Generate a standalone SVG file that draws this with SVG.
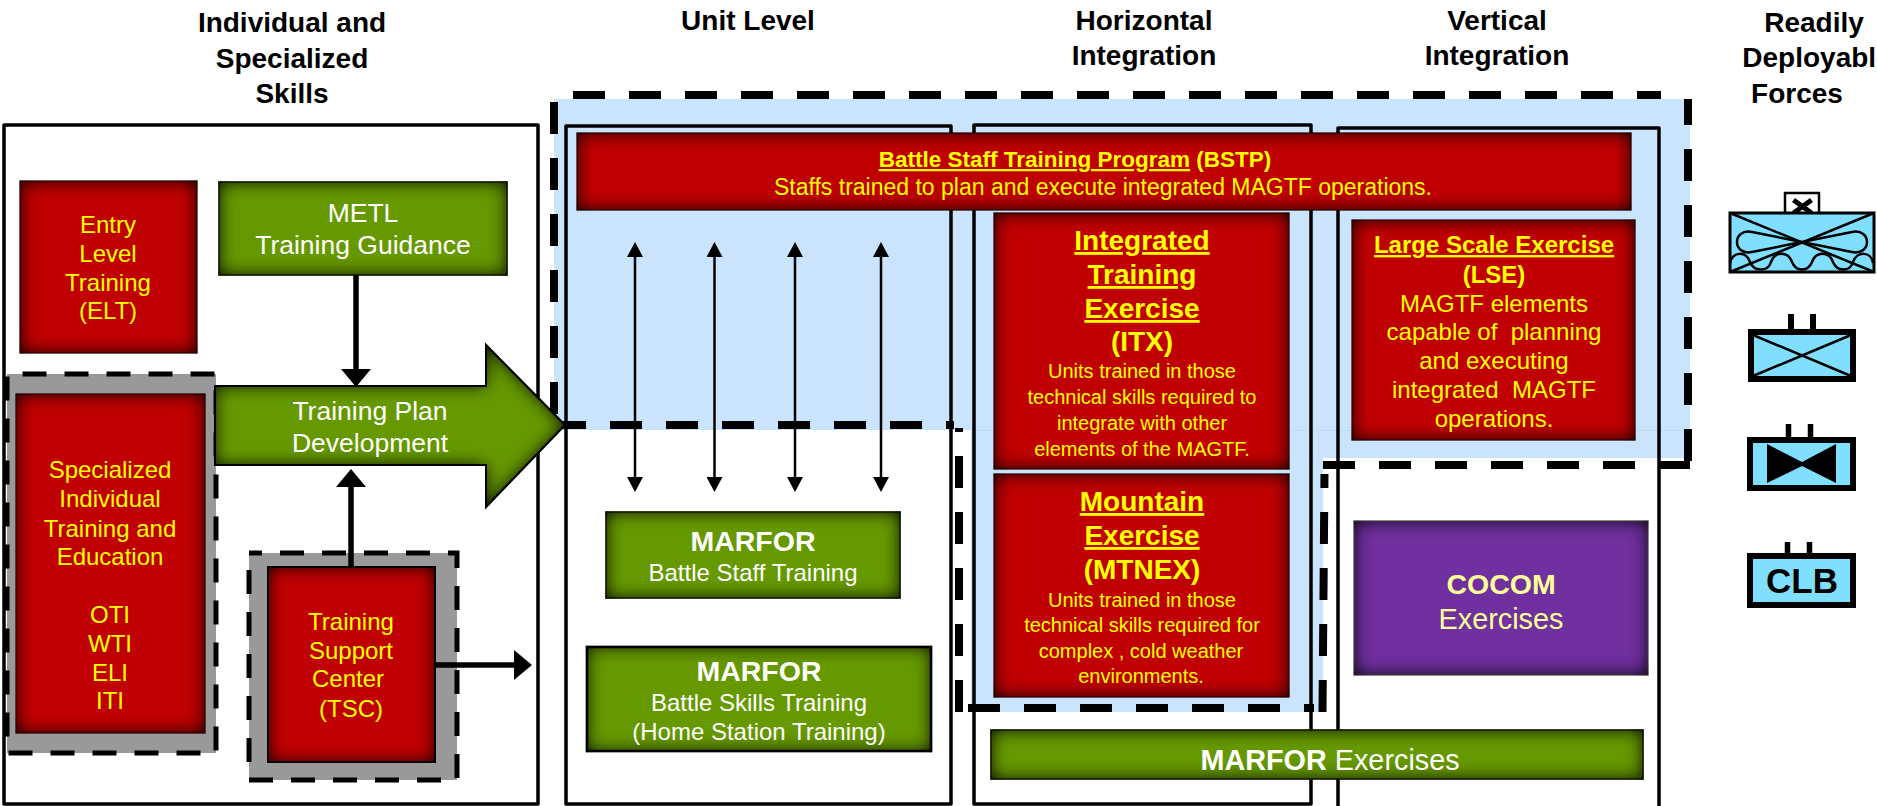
<svg xmlns="http://www.w3.org/2000/svg" width="1877" height="806" viewBox="0 0 1877 806">
<style>
text{font-family:"Liberation Sans",Arial,sans-serif;text-anchor:middle}
.h{font-size:28px;font-weight:700;fill:#000}
.y24{font-size:24px;fill:#ff0}
.y20{font-size:20px;fill:#ff0}
.w26{font-size:26.5px;fill:#fff}
.w24{font-size:24px;fill:#fff}
.b28{font-size:28.5px;font-weight:700}
.t{font-size:28px;font-weight:700;fill:#ff0}
.u{text-decoration:underline}
.frame{fill:none;stroke:#000;stroke-width:3.5;stroke-linejoin:round}
.red{fill:#c00000;stroke:#400;stroke-width:1;filter:url(#inset)}
.green{fill:#669900;stroke:#1c2c00;stroke-width:1.5;filter:url(#inset)}
.gray{fill:#999;stroke:#000;stroke-width:5;stroke-dasharray:24 18}
.bd{fill:none;stroke:#000;stroke-width:8;stroke-dasharray:32 24}
.sym{fill:#80dfff;stroke:#000}
.cn{fill:none;stroke:#000}
</style>
<defs>
<filter id="inset" filterUnits="userSpaceOnUse" x="0" y="0" width="1877" height="806" color-interpolation-filters="sRGB">
<feFlood flood-color="#000" flood-opacity="1" result="f"/>
<feComposite in="f" in2="SourceAlpha" operator="out" result="inv"/>
<feGaussianBlur in="inv" stdDeviation="9" result="b"/>
<feComposite in="b" in2="SourceAlpha" operator="in" result="sh"/>
<feMerge><feMergeNode in="SourceGraphic"/><feMergeNode in="sh"/></feMerge>
</filter>
<marker id="thin" markerUnits="userSpaceOnUse" markerWidth="16" markerHeight="16" refX="0" refY="8" orient="auto-start-reverse"><path d="M0 0L15 8L0 16Z"/></marker>
<marker id="thick" markerUnits="userSpaceOnUse" markerWidth="18" markerHeight="30" refX="0" refY="15" orient="auto"><path d="M0 0L18 15L0 30Z"/></marker>
</defs>

<g id="headers">
<text class="h" x="292" y="32">Individual and</text><text class="h" x="292" y="68">Specialized</text><text class="h" x="292" y="103">Skills</text>
<text class="h" x="748" y="30">Unit Level</text>
<text class="h" x="1144" y="30">Horizontal</text><text class="h" x="1144" y="65">Integration</text>
<text class="h" x="1497" y="30">Vertical</text><text class="h" x="1497" y="65">Integration</text>
<text class="h" x="1814" y="32">Readily</text><text class="h" x="1817" y="67">Deployable</text><text class="h" x="1797" y="103">Forces</text>
</g>

<g id="integration-zone">
<polygon points="554,99 1690,99 1690,458 1323,458 1323,712 971,712 971,430 554,430" fill="#cae4fe"/>
<path d="M971 430.500H1690M1319 431V458" fill="none" stroke="#bcdcf8" stroke-width="1"/>
<path class="bd" d="M573 95H1661"/>
<path class="bd" d="M554 414V102"/>
<path class="bd" d="M554 425H954"/>
<path class="bd" d="M959 712V428"/>
<path class="bd" d="M968 708H1314"/>
<path class="bd" d="M1322.500 712L1324.500 474"/>
<path class="bd" d="M1323 465H1690"/>
<path class="bd" d="M1688 461V99"/>
</g>

<g id="frames">
<rect class="frame" x="4" y="125" width="534" height="679"/>
<rect class="frame" x="566" y="126" width="385" height="678"/>
<rect class="frame" x="974" y="125" width="337" height="679"/>
<rect class="frame" x="1338" y="128" width="321" height="690"/>
</g>

<g id="elt"><rect class="red" x="20" y="181" width="177" height="172"/>
<text class="y24" x="108" y="233">Entry</text><text class="y24" x="108" y="262">Level</text><text class="y24" x="108" y="291">Training</text><text class="y24" x="108" y="319">(ELT)</text></g>

<g id="metl"><rect class="green" x="219" y="182" width="288" height="93"/>
<text class="w26" x="363" y="222">METL</text><text class="w26" x="363" y="254">Training Guidance</text></g>

<g id="site"><rect class="gray" x="7" y="374" width="209" height="379" stroke-dashoffset="-15.500"/>
<rect class="red" x="16" y="394" width="189" height="339"/>
<text class="y24" x="110" y="478">Specialized</text><text class="y24" x="110" y="507">Individual</text><text class="y24" x="110" y="537">Training and</text><text class="y24" x="110" y="565">Education</text>
<text class="y24" x="110" y="623">OTI</text><text class="y24" x="110" y="652">WTI</text><text class="y24" x="110" y="681">ELI</text><text class="y24" x="110" y="709">ITI</text></g>

<g id="tsc"><rect class="gray" x="249" y="553" width="208" height="227" stroke-dashoffset="11"/>
<rect class="red" x="268" y="567" width="167" height="195" style="stroke:#000;stroke-width:2"/>
<text class="y24" x="351" y="630">Training</text><text class="y24" x="351" y="659">Support</text><text class="y24" x="348" y="687">Center</text><text class="y24" x="351" y="717">(TSC)</text></g>

<g id="plan"><polygon class="green" points="215,386 486,386 486,345 565,425 486,507 486,465 215,465" style="stroke:#000;stroke-width:2"/>
<text class="w26" x="370" y="420">Training Plan</text><text class="w26" x="370" y="452">Development</text></g>

<g id="bstp"><rect class="red" x="577" y="133" width="1054" height="77"/>
<text class="y24" x="1075" y="167" font-weight="700" style="font-size:22.500px"><tspan class="u">Battle Staff Training Program</tspan>  (BSTP)</text>
<text class="y24" x="1103" y="195" style="font-size:23px">Staffs trained to plan and execute integrated MAGTF operations.</text></g>

<g id="itx"><rect class="red" x="994" y="213" width="295" height="256"/>
<text class="t u" x="1142" y="250">Integrated</text><text class="t u" x="1142" y="284">Training</text><text class="t u" x="1142" y="318">Exercise</text><text class="t" x="1142" y="351">(ITX)</text>
<text class="y20" x="1142" y="378">Units trained in those</text><text class="y20" x="1142" y="404">technical skills required to</text><text class="y20" x="1142" y="430">integrate with other</text><text class="y20" x="1142" y="456">elements of the MAGTF.</text></g>

<g id="mtnex"><rect class="red" x="994" y="474" width="295" height="223"/>
<text class="t u" x="1142" y="511">Mountain</text><text class="t u" x="1142" y="545">Exercise</text><text class="t" x="1142" y="579">(MTNEX)</text>
<text class="y20" x="1142" y="607">Units trained in those</text><text class="y20" x="1142" y="632">technical skills required for</text><text class="y20" x="1141" y="658">complex , cold weather</text><text class="y20" x="1141" y="683">environments.</text></g>

<g id="lse"><rect class="red" x="1352" y="220" width="283" height="220"/>
<text class="y24 u" x="1494" y="253" font-weight="700">Large Scale Exercise</text><text class="y24" x="1494" y="283" font-weight="700">(LSE)</text>
<text class="y24" x="1494" y="312">MAGTF elements</text><text class="y24" x="1494" y="340" xml:space="preserve">capable of  planning</text><text class="y24" x="1494" y="369">and executing</text><text class="y24" x="1494" y="398" xml:space="preserve">integrated  MAGTF</text><text class="y24" x="1494" y="427">operations.</text></g>

<g id="cocom"><rect x="1354" y="521" width="294" height="154" fill="#7030a0" stroke="#777" stroke-width="1" filter="url(#inset)"/>
<text class="b28" x="1501" y="594" fill="#ff9">COCOM</text><text x="1501" y="629" fill="#ff9" style="font-size:28.800px">Exercises</text></g>

<g id="marfor-staff"><rect class="green" x="606" y="512" width="294" height="86"/>
<text class="b28" x="753" y="551" fill="#fff">MARFOR</text><text class="w24" x="753" y="581">Battle Staff Training</text></g>

<g id="marfor-skills"><rect class="green" x="587" y="647" width="344" height="104" style="stroke:#000;stroke-width:2.500"/>
<text class="b28" x="759" y="681" fill="#fff">MARFOR</text><text class="w24" x="759" y="711">Battle Skills Training</text><text class="w24" x="759" y="740">(Home Station Training)</text></g>

<g id="marfor-exercises"><rect class="green" x="991" y="730" width="652" height="49"/>
<text x="1330" y="770" fill="#fff" style="font-size:28.800px"><tspan font-weight="700">MARFOR</tspan> Exercises</text></g>

<g id="connectors">
<path class="cn" stroke-width="5.500" d="M356 275V369" marker-end="url(#thick)"/>
<path class="cn" stroke-width="5.500" d="M351 567V487" marker-end="url(#thick)"/>
<path class="cn" stroke-width="5.500" d="M436 665H514" marker-end="url(#thick)"/>
<path class="cn" stroke-width="2.500" d="M635 257V477" marker-start="url(#thin)" marker-end="url(#thin)"/>
<path class="cn" stroke-width="2.500" d="M714.500 257V477" marker-start="url(#thin)" marker-end="url(#thin)"/>
<path class="cn" stroke-width="2.500" d="M795 257V477" marker-start="url(#thin)" marker-end="url(#thin)"/>
<path class="cn" stroke-width="2.500" d="M881 257V477" marker-start="url(#thin)" marker-end="url(#thin)"/>
</g>

<g id="force-meb">
<rect x="1785" y="193" width="34" height="21" fill="#fff" stroke="#000" stroke-width="2.500"/>
<path d="M1793.500 200L1811.500 213M1811.500 200L1793.500 213" stroke="#000" stroke-width="5" fill="none"/>
<rect class="sym" x="1730" y="213" width="144" height="59" stroke-width="3"/>
<path d="M1730 213L1874 272M1874 213L1730 272" stroke="#000" stroke-width="2.500" fill="none"/>
<path d="M1802 242L1752 232C1742 230 1737 236 1737 242C1737 248 1742 254 1752 252ZM1802 242L1852 232C1862 230 1867 236 1867 242C1867 248 1862 254 1852 252Z" fill="none" stroke="#000" stroke-width="2.500"/>
<path d="M1730 263C1733 251 1746 251 1750 262C1754 272 1768 272 1771 262C1775 251 1788 251 1792 262C1796 272 1808 272 1812 262C1816 251 1829 251 1833 262C1837 272 1850 272 1853 262C1857 251 1871 251 1873 263" fill="none" stroke="#000" stroke-width="2.500"/>
</g>
<g id="force-inf">
<path d="M1791 314V329M1813 314V329" stroke="#000" stroke-width="6"/>
<rect class="sym" x="1751" y="332" width="102" height="47" stroke-width="6"/>
<path d="M1753 335L1851 376M1851 335L1753 376" stroke="#000" stroke-width="2.500" fill="none"/>
</g>
<g id="force-armor">
<path d="M1788.500 424V437M1810.500 424V437" stroke="#000" stroke-width="5.500"/>
<rect class="sym" x="1750" y="440" width="103" height="48" stroke-width="6"/>
<polygon points="1767,444 1802,462 1836,444 1836,483 1802,466 1767,483"/>
</g>
<g id="force-clb">
<path d="M1787.500 542V553M1809.500 542V553" stroke="#000" stroke-width="5.500"/>
<rect class="sym" x="1750" y="556" width="103" height="49" stroke-width="6"/>
<text x="1802" y="593" style="font-size:35px;font-weight:700">CLB</text>
</g>
</svg>
